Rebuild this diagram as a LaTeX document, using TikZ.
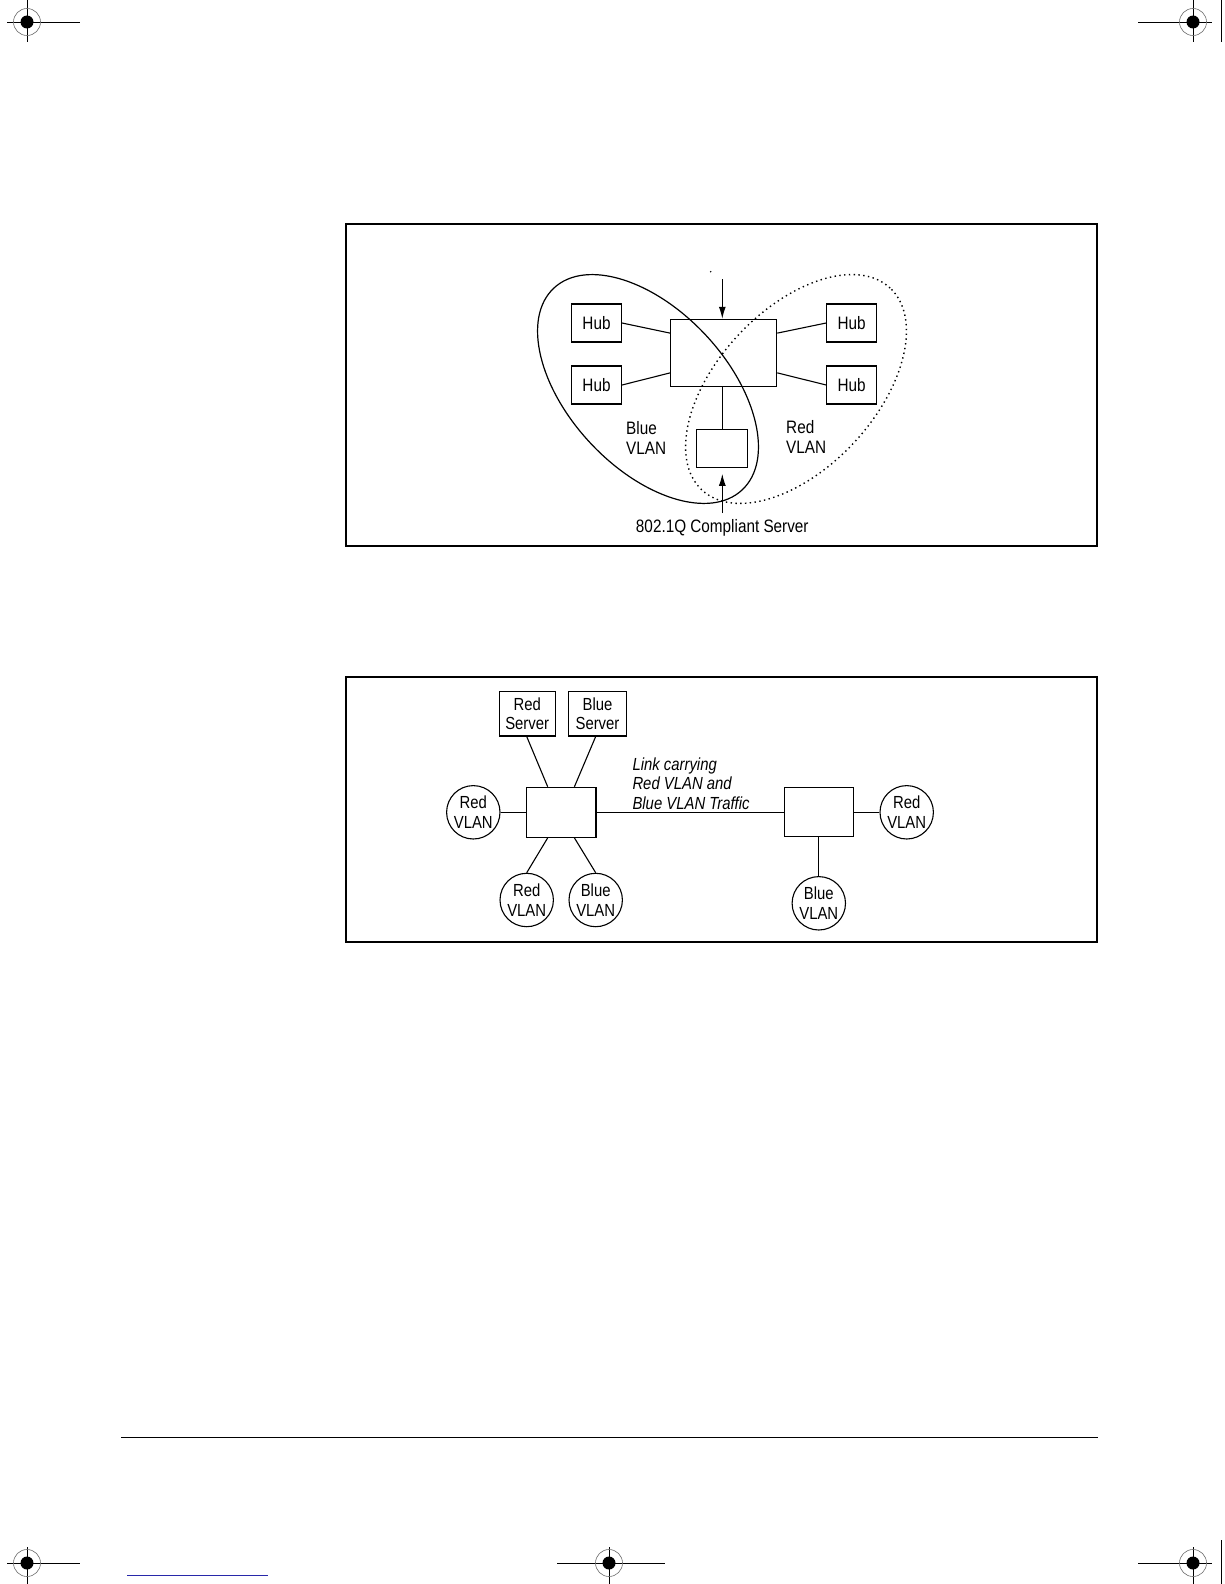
\documentclass[tikz,border=0pt]{standalone}
\usepackage{fontspec}
\setmainfont{Liberation Sans}[FakeStretch=0.85]
\usetikzlibrary{arrows.meta,calc}
\definecolor{linkblue}{RGB}{40,40,170}
\definecolor{markgray}{RGB}{110,110,110}
\begin{document}
\begin{tikzpicture}[x=1pt,y=-1pt,
  frame/.style={line width=2pt},
  ln/.style={line width=1.1pt},
  lbl/.style={font=\fontsize{18pt}{20pt}\selectfont},
  lblb/.style={font=\fontsize{17.5pt}{19.5pt}\selectfont},
  box/.style={draw,line width=1.1pt,rectangle,inner sep=0pt,align=center},
  hub/.style={box,lbl,minimum width=50pt,minimum height=38pt},
  vc/.style={draw,circle,line width=1.1pt,minimum size=53.4pt,inner sep=0pt,align=center,lblb},
  arr/.style={ln,-{Latex[length=12pt,width=7pt]}},
  cross/.style={line width=0.8pt},
]
\useasboundingbox (0,0) rectangle (1224,1584);
\fill[white] (0,0) rectangle (1224,1584);

% ---------- registration marks ----------
\foreach \cx/\cy/\hl/\hr/\vt/\vb in {27/22/7/80/0/42, 1193/22/1138/1212/0/42, 27/1563/7/80/1547/1584, 609/1563/557/665/1547/1584, 1193/1563/1138/1212/1547/1584}{
  \draw[cross] (\hl,\cy) -- (\hr,\cy);
  \draw[cross] (\cx,\vt) -- (\cx,\vb);
  \draw[markgray,line width=0.6pt] (\cx,\cy) circle [radius=13.5pt];
  \fill (\cx,\cy) circle [radius=6.5pt];
}
\draw[cross] (1221,0) -- (1221,42);
\draw[cross] (1221,1540) -- (1221,1584);
\draw[linkblue,line width=1pt] (127,1575) -- (268,1575);
\draw[line width=1pt] (121,1437) -- (1098,1437);

% ---------- figure 1 ----------
\draw[frame] (346,224) rectangle (1097,546);

\node[hub] (hubTL) at (596.5,323) {Hub};
\node[hub] (hubBL) at (596.5,385) {Hub};
\node[hub] (hubTR) at (851.7,323) {Hub};
\node[hub] (hubBR) at (851.7,385) {Hub};
\node[box,minimum width=106pt,minimum height=67.4pt] (sw) at (723.7,353) {};
\node[box,minimum width=51pt,minimum height=38pt] (srv) at (722.3,448.3) {};

\draw[ln] (hubTL.east) -- ($(sw.north west)!0.21!(sw.south west)$);
\draw[ln] (hubBL.east) -- ($(sw.north west)!0.79!(sw.south west)$);
\draw[ln] (hubTR.west) -- ($(sw.north east)!0.21!(sw.south east)$);
\draw[ln] (hubBR.west) -- ($(sw.north east)!0.79!(sw.south east)$);
\draw[ln] (srv.north) -- (srv.north |- sw.south);

\coordinate (topin) at (722.3,279);
\coordinate (botin) at (722.3,513);
\draw[arr] (topin) -- (topin |- sw.north);
\draw[arr] (botin) -- ([yshift=-6pt]srv.south);
\fill (710.7,271.7) circle [radius=0.8pt];

\draw[line width=1.2pt,rotate around={-47:(648,389)}] (648,389) ellipse [x radius=138pt, y radius=79pt];
\draw[line width=1.4pt,dash pattern=on 1.4pt off 3.4pt,rotate around={47:(796,389)}] (796,389) ellipse [x radius=138pt, y radius=79pt];

\node[lbl,anchor=north west,inner sep=0pt,align=left] (bluet) at (626,421.7) {Blue\\VLAN};
\node[lbl,anchor=north west,inner sep=0pt,align=left] (redt) at (786,420) {Red\\VLAN};
\node[lbl,anchor=base,inner sep=0pt] (srvt) at (722.3,532.5) {802.1Q Compliant Server};

% ---------- figure 2 ----------
\draw[frame] (346,677) rectangle (1097,942);

\node[box,lblb,minimum width=55.7pt,minimum height=44.3pt] (rs) at (527.2,713.8) {Red\\Server};
\node[box,lblb,minimum width=58.4pt,minimum height=44.3pt] (bs) at (597.5,713.8) {Blue\\Server};
\node[box,minimum width=69.3pt,minimum height=50pt] (swa) at (561.3,812.3) {};
\node[box,minimum width=69pt,minimum height=49pt] (swb) at (818.8,812.3) {};

\node[vc] (lc) at (473.3,812.3) {Red\\VLAN};
\node[vc] (rc) at (526.7,900) {Red\\VLAN};
\node[vc] (bc) at (595.7,900) {Blue\\VLAN};
\node[vc] (rc2) at (906.7,812.3) {Red\\VLAN};
\node[vc] (bc2) at (818.8,903.3) {Blue\\VLAN};

\coordinate (swaTL) at ($(swa.north west)+(21.6,0)$);
\coordinate (swaTR) at ($(swa.north west)+(48.3,0)$);
\coordinate (swaBL) at ($(swa.south west)+(21.6,0)$);
\coordinate (swaBR) at ($(swa.south west)+(48.3,0)$);
\draw[ln] ([xshift=-0.5pt]rs.south) -- (swaTL);
\draw[ln] ([xshift=-1.8pt]bs.south) -- (swaTR);
\draw[ln] (swaBL) -- (rc.north);
\draw[ln] (swaBR) -- (bc.north);
\draw[ln] (lc.east) -- (swa.west);
\draw[ln] (swa.east) -- (swb.west);
\draw[ln] (swb.east) -- (rc2.west);
\draw[ln] (swb.south) -- (bc2.north);

\node[lblb,anchor=north west,inner sep=0pt,align=left,font=\fontsize{17.5pt}{19.5pt}\selectfont\itshape] (linkt) at (632.3,757.3) {Link carrying\\Red VLAN and\\Blue VLAN Traffic};
\end{tikzpicture}
\end{document}
